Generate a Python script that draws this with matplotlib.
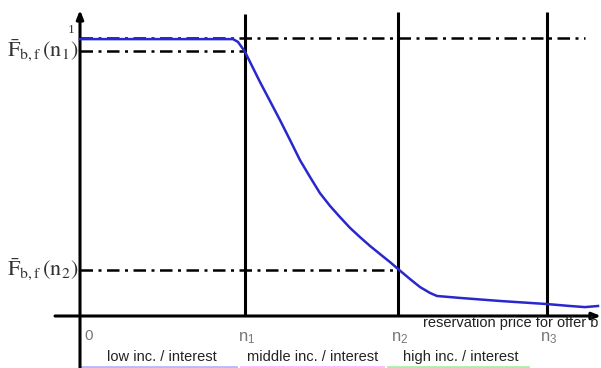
import matplotlib
matplotlib.use("Agg")
import matplotlib.pyplot as plt

# ---- data (x in price units, y = survival probability) ----
curve_x = [0.0, 0.50, 0.987, 1.019, 1.065, 1.110, 1.161, 1.226, 1.290, 1.355, 1.419,
           1.484, 1.548, 1.613, 1.677, 1.742, 1.806, 1.871, 1.935, 2.000, 2.052,
           2.129, 2.194, 2.258, 2.303, 2.452, 2.710, 3.013, 3.161, 3.258, 3.342]
curve_y = [0.996, 0.996, 0.996, 0.986, 0.950, 0.899, 0.842, 0.773, 0.705, 0.633, 0.561,
           0.500, 0.442, 0.396, 0.356, 0.317, 0.284, 0.252, 0.223, 0.194, 0.169,
           0.133, 0.104, 0.083, 0.072, 0.065, 0.054, 0.043, 0.036, 0.032, 0.036]
n_pos = [1.065, 2.052, 3.013]
n_labels = [r"n$\mathregular{_1}$", r"n$\mathregular{_2}$", r"n$\mathregular{_3}$"]
F_n1 = 0.953
F_n2 = 0.165
one_level = 1.0
segment_labels = ["low inc. / interest", "middle inc. / interest", "high inc. / interest"]
segment_colors = ["#b8b8ff", "#ffb8ff", "#a8f0a8"]
x_title = "reservation price for offer b"

plt.rcParams["mathtext.fontset"] = "stix"

# ---- figure ----
W, H = 601, 368
fig = plt.figure(figsize=(W / 100, H / 100), dpi=100)
ax = fig.add_axes([0, 0, 1, 1])
sx = 155.0   # px per x unit
sy = 278.0   # px per y unit
ox, oy = 80.0, 316.0
ax.set_xlim(-ox / sx, (W - ox) / sx)
ax.set_ylim((oy - H) / sy, oy / sy)
ax.axis("off")


def px(x):
    return (x - ox) / sx


def py(y):
    return (oy - y) / sy


# axes
ax.annotate("", xy=(px(601), 0), xytext=(px(55), 0),
            arrowprops=dict(arrowstyle="-|>,head_length=0.5,head_width=0.2", lw=2.2, color="black",
                            shrinkA=0, shrinkB=0))
ax.annotate("", xy=(0, py(10)), xytext=(0, py(368)),
            arrowprops=dict(arrowstyle="-|>,head_length=0.5,head_width=0.2", lw=2.2, color="black",
                            shrinkA=0, shrinkB=0))

# vertical lines at n1, n2, n3
tops = [py(14), py(12), py(12)]
for xv, t in zip(n_pos, tops):
    ax.plot([xv, xv], [0, t], color="black", lw=2.2, solid_capstyle="butt")

# dash-dot reference lines
dd = dict(color="black", lw=1.8, dashes=(5, 2.2, 1.2, 2.2))
ax.plot([0, px(585)], [one_level, one_level], **dd)
ax.plot([0, n_pos[0]], [F_n1, F_n1], **dd)
ax.plot([0, n_pos[1]], [F_n2, F_n2], **dd)

# curve
ax.plot(curve_x, curve_y, color="#2828cc", lw=1.8, zorder=5,
        solid_joinstyle="round")

# left labels
ax.text(px(78), F_n1, r"$\bar{\mathrm{F}}_{\mathrm{b,f}}\,(\mathrm{n}_1)$", ha="right", va="center",
        fontsize=16, color="#333333")
ax.text(px(78), F_n2, r"$\bar{\mathrm{F}}_{\mathrm{b,f}}\,(\mathrm{n}_2)$", ha="right", va="center",
        fontsize=16, color="#333333")
ax.text(px(71), py(30), "1", ha="center", va="center", fontsize=9.5,
        family="Liberation Serif", color="#333333")

# x tick labels
ax.text(px(84), py(336), "0", ha="left", va="center", fontsize=11,
        family="Liberation Sans", color="#777777")
for xv, lab in zip(n_pos, n_labels):
    ax.text(xv - 7 / sx, py(338), lab, ha="left", va="center", fontsize=12,
            family="Liberation Sans", color="#777777")

ax.text(px(598), py(323), x_title, ha="right", va="center", fontsize=10.5,
        family="Liberation Sans", color="#222222")

# segment labels
centers = [162, 313, 461]
for c, lab in zip(centers, segment_labels):
    ax.text(px(c), py(357), lab, ha="center", va="center", fontsize=10.5,
            family="Liberation Sans", color="#222222")
bounds = [(82, 236), (241, 383), (388, 528)]
for (a, b), col in zip(bounds, segment_colors):
    ax.plot([px(a), px(b)], [py(367), py(367)], color=col, lw=2)

fig.savefig("out.png", dpi=100)
